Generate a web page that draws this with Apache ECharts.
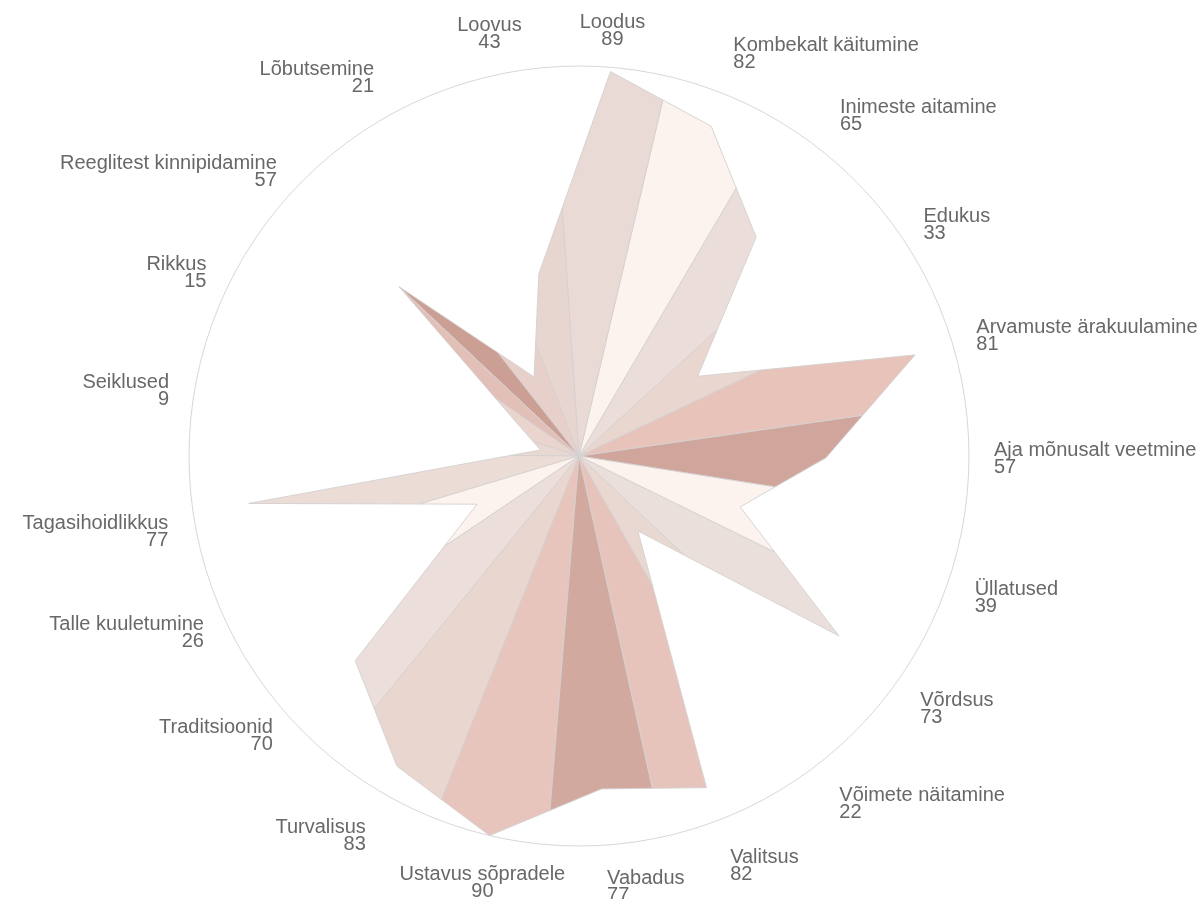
<!DOCTYPE html>
<html><head><meta charset="utf-8">
<script src="https://cdn.jsdelivr.net/npm/echarts@6/dist/echarts.min.js"></script>
<style>html,body{margin:0;padding:0;background:#fff}#c{width:1201px;height:899px}</style>
</head><body><div id="c"></div>
<script>
// Categories in drawing order (counter-clockwise from the east axis)
const categories = ['Aja mõnusalt veetmine','Arvamuste ärakuulamine','Edukus','Inimeste aitamine','Kombekalt käitumine','Loodus','Loovus','Lõbutsemine','Reeglitest kinnipidamine','Rikkus','Seiklused','Tagasihoidlikkus','Talle kuuletumine','Traditsioonid','Turvalisus','Ustavus sõpradele','Vabadus','Valitsus','Võimete näitamine','Võrdsus','Üllatused'];
const values = [57,81,33,65,82,89,43,21,57,15,9,77,26,70,83,90,77,82,22,73,39];
const maxValue = 90;

// wedge colours: [side toward previous category, side toward next category]
const wedgeColors = [
  ['#d0a69c','#d0a69c'], ['#e7c3ba','#e7c3ba'], ['#e8d6cf','#e8d6cf'], ['#ebdeda','#ebdeda'],
  ['#fcf2ee','#fcf2ee'], ['#e9dad5','#e9dad5'], ['#e7d5cf','#e7d5cf'], ['#e7d0c9','#e7d0c9'],
  ['#cb9f94','#e3c0b7'], ['#e9d5ce','#e9d5ce'], ['#e9d8d2','#e9d8d2'], ['#ecdcd6','#ecdcd6'],
  ['#fcf2ee','#fcf2ee'], ['#ecdfdb','#ecdfdb'], ['#e9d6cf','#e9d6cf'], ['#e8c5bc','#e8c5bc'],
  ['#d2a99f','#d2a99f'], ['#e7c4bb','#e7c4bb'], ['#e9d7d1','#e9d7d1'], ['#ebdfdb','#ebdfdb'],
  ['#fcf2ee','#fcf2ee']
];

const n = categories.length;
const chart = echarts.init(document.getElementById('c'));

function intersect(c, d, a, b) {
  const r0 = d[0] - c[0], r1 = d[1] - c[1];
  const s0 = b[0] - a[0], s1 = b[1] - a[1];
  const den = r0 * s1 - r1 * s0;
  const t = ((a[0] - c[0]) * s1 - (a[1] - c[1]) * s0) / den;
  return [c[0] + t * r0, c[1] + t * r1];
}

function labelAlign(theta) {
  let h, v;
  if (theta > 345 || theta < 12 || (theta > 185 && theta < 200)) h = 'center';
  else if (theta <= 185) h = 'left';
  else h = 'right';
  if (theta < 50 || theta > 320) v = 'bottom';
  else if (theta < 100) v = 'middle';
  else if (theta <= 215) v = 'top';
  else if (theta >= 255 && theta <= 270) v = 'top';
  else v = 'middle';
  return [h, v];
}

function labelRadius(theta, v) {
  const t = theta * Math.PI / 180;
  const s = Math.abs(Math.sin(t)), c = Math.abs(Math.cos(t));
  if (v === 'bottom' && s < 0.1) return 1.05;
  if (v === 'top' && c > 0.7 && s > 0.15) return 1.08;
  return 1.064;
}

const strokeCol = 'rgba(212,208,210,0.9)';

chart.setOption({
  animation: false,
  backgroundColor: '#fff',
  polar: { center: [579, 456], radius: 390 },
  angleAxis: {
    type: 'value', min: 0, max: n, startAngle: -0.4, clockwise: false,
    axisLine: { show: true, lineStyle: { color: '#d8d8d8', width: 1 } },
    axisTick: { show: false }, axisLabel: { show: false }, splitLine: { show: false }
  },
  radiusAxis: {
    type: 'value', min: 0, max: maxValue,
    axisLine: { show: false }, axisTick: { show: false }, axisLabel: { show: false }, splitLine: { show: false }
  },
  series: [{
    type: 'custom',
    coordinateSystem: 'polar',
    silent: true,
    data: values.map((v, i) => [v, i]),
    renderItem: function (params, api) {
      const i = params.dataIndex;
      const prev = (i - 1 + n) % n, next = (i + 1) % n;
      const C = api.coord([0, i]);
      const P = api.coord([api.value(0), i]);
      const Pp = api.coord([values[prev], prev]);
      const Pn = api.coord([values[next], next]);
      const Dp = api.coord([maxValue, (i - 0.5 + n) % n]);
      const Dn = api.coord([maxValue, i + 0.5]);
      const Mp = intersect(C, Dp, Pp, P);
      const Mn = intersect(C, Dn, P, Pn);
      const cols = wedgeColors[i];
      const children = [];
      if (cols[0] === cols[1]) {
        children.push({ type: 'polygon', shape: { points: [C, Mp, P, Mn] },
          style: { fill: cols[0], stroke: strokeCol, lineWidth: 1 } });
      } else {
        children.push({ type: 'polygon', shape: { points: [C, Mp, P] },
          style: { fill: cols[0], stroke: strokeCol, lineWidth: 1 } });
        children.push({ type: 'polygon', shape: { points: [C, P, Mn] },
          style: { fill: cols[1], stroke: strokeCol, lineWidth: 1 } });
      }
      const R0 = api.coord([maxValue, i]);
      let theta = Math.atan2(R0[0] - C[0], -(R0[1] - C[1])) * 180 / Math.PI;
      theta = (theta + 360) % 360;
      const al = labelAlign(theta);
      const L = api.coord([maxValue * labelRadius(theta, al[1]), i]);
      children.push({
        type: 'text', x: L[0], y: L[1], z2: 10,
        style: {
          text: categories[i] + '\n' + api.value(0),
          fill: '#686868', fontSize: 20, lineHeight: 17,
          fontFamily: '"Liberation Sans", Arial, sans-serif',
          align: al[0], verticalAlign: al[1]
        }
      });
      return { type: 'group', children: children };
    }
  }]
});
</script>
</body></html>
